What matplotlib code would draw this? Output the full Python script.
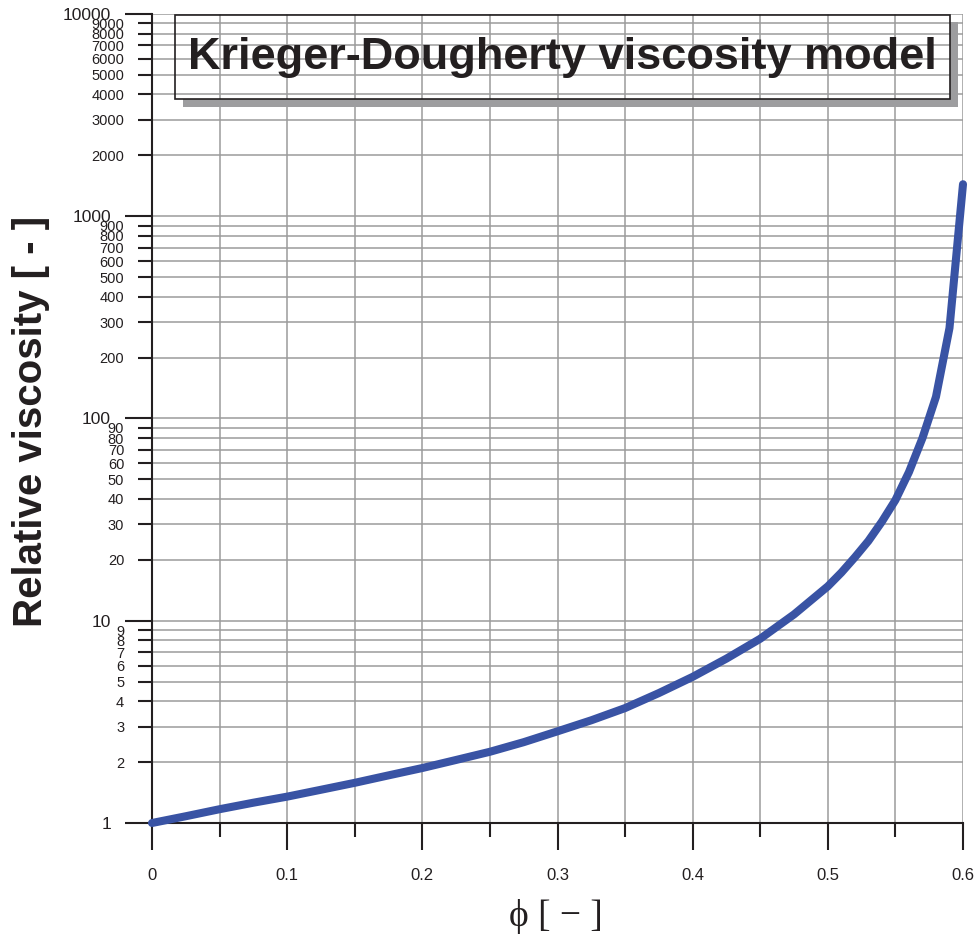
import numpy as np
import matplotlib
matplotlib.use('Agg')
import matplotlib.pyplot as plt
from matplotlib.ticker import LogLocator, FuncFormatter, NullFormatter
from matplotlib.patches import Rectangle

# ============= Data =============
phi = [0.0, 0.025, 0.05, 0.075, 0.1, 0.125, 0.15, 0.175, 0.2, 0.225, 0.25, 0.275,
       0.3, 0.325, 0.35, 0.375, 0.4, 0.425, 0.45, 0.475,
       0.5, 0.51, 0.52, 0.53, 0.54, 0.55, 0.56, 0.57, 0.58, 0.59, 0.6]
eta_rel = [1.0, 1.08, 1.17, 1.26, 1.35, 1.46, 1.58, 1.72, 1.87, 2.05, 2.25, 2.51,
           2.84, 3.22, 3.70, 4.39, 5.28, 6.5, 8.15, 10.75,
           14.8, 17.3, 20.6, 24.8, 30.9, 39.5, 54.3, 80.0, 128.0, 280.0, 1440.0]

x_major = [0, 0.1, 0.2, 0.3, 0.4, 0.5, 0.6]
x_labels = ['0', '0.1', '0.2', '0.3', '0.4', '0.5', '0.6']
x_minor = [0.05, 0.15, 0.25, 0.35, 0.45, 0.55]

title = 'Krieger-Dougherty viscosity model'
ylabel = 'Relative viscosity [ - ]'
xlabel = 'ϕ [ − ]'

W, H = 978, 939
ink = '#231f20'
grid_c = '#9b9b9b'
ax_top, ax_bot = 14, 823


def fx(px):
    return px / W


def fy(py):
    return 1 - py / H


plt.rcParams['font.family'] = ['Liberation Sans', 'DejaVu Sans']

fig = plt.figure(figsize=(W / 100, H / 100), dpi=100)
ax = fig.add_axes([fx(152), fy(ax_bot), (963 - 152) / W, (ax_bot - ax_top) / H])

ax.set_yscale('log')
ax.set_xlim(0, 0.6)
ax.set_ylim(1, 10000)

ax.set_xticks(x_major)
ax.set_xticks(x_minor, minor=True)
ax.xaxis.set_major_formatter(NullFormatter())
ax.xaxis.set_minor_formatter(NullFormatter())

ax.yaxis.set_major_locator(LogLocator(base=10, numticks=10))
ax.yaxis.set_minor_locator(LogLocator(base=10, subs=range(2, 10), numticks=40))
ax.yaxis.set_major_formatter(FuncFormatter(lambda v, p: '%d' % round(v)))
ax.yaxis.set_minor_formatter(FuncFormatter(lambda v, p: '%d' % round(v)))

ax.grid(True, which='both', color=grid_c, lw=1.1, zorder=0)
ax.set_axisbelow(True)

for s in ['top', 'right']:
    ax.spines[s].set_visible(False)
for s in ['left', 'bottom']:
    ax.spines[s].set_color(ink)
    ax.spines[s].set_linewidth(1.5)

ax.tick_params(axis='y', which='major', length=19.5, width=1.5, pad=10, labelsize=12.5,
               color=ink, labelcolor=ink)
ax.tick_params(axis='y', which='minor', length=10, width=1.5, pad=10, labelsize=10.5,
               color=ink, labelcolor=ink)
ax.tick_params(axis='x', which='major', direction='out', length=19.5, width=1.5, color=ink)
ax.tick_params(axis='x', which='minor', direction='out', length=10, width=1.5, color=ink)

# x tick labels sit well below the tick ends
lab_y = -(875 - ax_bot) / (ax_bot - ax_top)
for xv, lab in zip(x_major, x_labels):
    ax.text(xv, lab_y, lab, transform=ax.get_xaxis_transform(), ha='center', va='center',
            fontsize=12, color=ink, clip_on=False)

# the curve
ax.plot(phi, eta_rel, color='#3953a4', lw=5.8, solid_capstyle='round',
        solid_joinstyle='round', clip_on=False, zorder=3)

# title box with drop shadow (transparent inside, grid shows through)
shadow = '#9d9d9f'
fig.patches.append(Rectangle((fx(950), fy(107)), 8 / W, 85 / H, transform=fig.transFigure,
                             fc=shadow, ec='none', zorder=2))
fig.patches.append(Rectangle((fx(183), fy(107)), 775 / W, 8 / H, transform=fig.transFigure,
                             fc=shadow, ec='none', zorder=2))
fig.patches.append(Rectangle((fx(175), fy(99)), 775 / W, 84 / H, transform=fig.transFigure,
                             fill=False, ec=ink, lw=1.2, zorder=3))
fig.text(fx(562), fy(69), title, ha='center', va='baseline', fontsize=32.5,
         fontweight='bold', color=ink, zorder=4)

# axis labels
fig.text(fx(31), fy(421), ylabel, rotation=90, ha='center', va='center', fontsize=29,
         fontweight='bold', color=ink)
fig.text(fx(556), fy(916), xlabel, ha='center', va='center', fontsize=27,
         family=['Liberation Serif', 'DejaVu Serif'], color=ink)

plt.savefig('out.png', dpi=100)
plt.close()
